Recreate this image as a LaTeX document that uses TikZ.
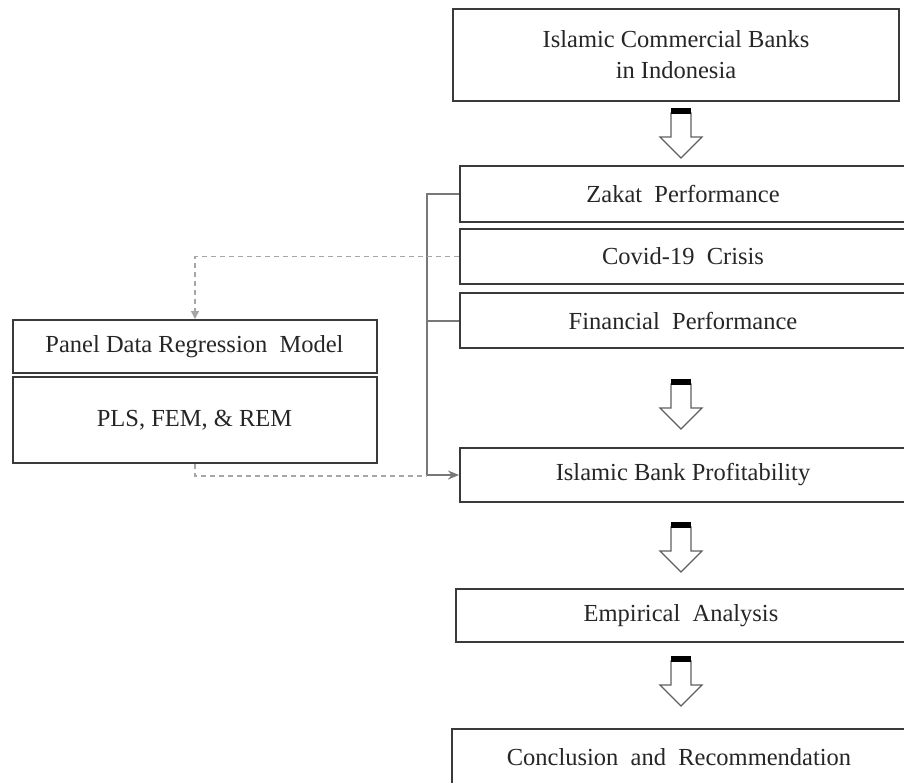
\documentclass[tikz,border=0pt]{standalone}
\usepackage{fontspec}
\setmainfont{Liberation Serif}
\usetikzlibrary{arrows.meta,calc}
\definecolor{boxline}{HTML}{3A3A3A}
\definecolor{connline}{HTML}{787878}
\definecolor{dashline}{HTML}{A6A6A6}
\definecolor{txt}{HTML}{262626}
\tikzset{
  x=1pt, y=-1pt,
  flowbox/.style={draw=boxline, line width=2pt, fill=white, rectangle, inner sep=0pt,
    text=txt, align=center, font=\fontsize{24.5}{31}\selectfont},
  conn/.style={draw=connline, line width=2pt},
  dashconn/.style={draw=dashline, line width=1.3pt, dash pattern=on 5pt off 4pt},
  blockarr/.pic={
    \draw[draw=connline!80!black, line width=1.2pt, fill=white]
      (-10,5) -- (-10,29) -- (-21,29) -- (0,50) -- (21,29) -- (10,29) -- (10,5) -- cycle;
    \fill[black] (-10,0) rectangle (10,5.5);
  }
}
\begin{document}
\begin{tikzpicture}
\useasboundingbox (0,0) rectangle (904,782);
\fill[white] (0,0) rectangle (904,782);

% right column boxes
\node[flowbox, minimum width=446pt, minimum height=92pt] (banks) at (676,55)
  {Islamic Commercial Banks\\in Indonesia};
\node[flowbox, minimum width=446pt, minimum height=56pt] (zakat) at (683,194) {Zakat\ \ Performance};
\node[flowbox, minimum width=446pt, minimum height=55pt] (covid) at (683,256.5) {Covid-19\ \ Crisis};
\node[flowbox, minimum width=446pt, minimum height=55pt] (fin) at (683,320.5) {Financial\ \ Performance};
\node[flowbox, minimum width=446pt, minimum height=54pt] (profit) at (683,475) {Islamic\ Bank\ Profitability};
\node[flowbox, minimum width=450pt, minimum height=53pt] (emp) at (681,615.5) {Empirical\ \ Analysis};
\node[flowbox, minimum width=454pt, minimum height=56pt] (concl) at (679,757) {Conclusion\ \ and\ \ Recommendation};

% left boxes
\node[flowbox, minimum width=364pt, minimum height=53pt] (panel) at (194.5,346.5) {Panel\ Data\ Regression\ \ Model};
\node[flowbox, minimum width=364pt, minimum height=86pt] (pls) at (194.5,420) {PLS,\ FEM,\ \&\ REM};

% block arrows
\pic at (681,108) {blockarr};
\pic at (681,379) {blockarr};
\pic at (681,522) {blockarr};
\pic at (681,656) {blockarr};

% solid connectors
\coordinate (bustop) at (427,0);
\draw[conn, -{Stealth[length=11pt,width=9pt,open,fill=connline!40]}]
  (zakat.west) -| ($(profit.west -| bustop)$) -- (profit.west);
\draw[conn] (fin.west) -- (fin.west -| bustop);

% dashed connectors
\coordinate (dx) at (195,0);
\draw[dashconn, -{Triangle[length=8pt,width=8pt,fill=dashline]}]
  (covid.west) -| (panel.north -| dx);
\draw[dashconn] (pls.south -| dx) |- ($(profit.west -| bustop)+(0,1)$);
\end{tikzpicture}
\end{document}
